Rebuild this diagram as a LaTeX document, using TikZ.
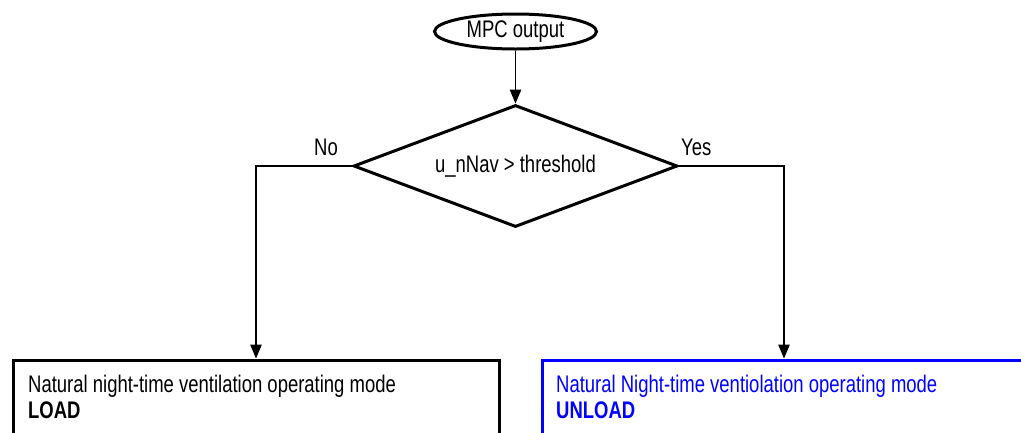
\documentclass[tikz,border=0pt]{standalone}
\usepackage{fontspec}
\setmainfont{Liberation Sans}[FakeStretch=0.77]
\usetikzlibrary{shapes.geometric,arrows.meta}
\begin{document}
\begin{tikzpicture}[x=1pt,y=-1pt,
  every node/.style={font=\fontsize{24}{26}\selectfont},
  border/.style={draw, line width=3pt},
  conn/.style={line width=1.2pt, -{Triangle[length=14pt,width=11.5pt]}},
  lbl/.style={inner sep=0pt, anchor=base west},
  boxtxt/.style={inner sep=0pt, anchor=base west, align=left}]
\useasboundingbox (0,0) rectangle (1021,432);
\clip (0,0) rectangle (1021,432);
\node[border, ellipse, minimum width=162pt, minimum height=35pt, inner sep=0pt] (mpc) at (515.5,31.5) {MPC output};
\node[border, diamond, aspect=2.66, minimum width=324pt, minimum height=122pt, inner sep=0pt] (dec) at (515.5,166) {u\_nNav > threshold};
\node[border, anchor=north west, minimum width=486pt, minimum height=120pt, inner sep=0pt] (load) at (11.5,358.5) {};
\node[border, draw=blue, anchor=north west, minimum width=500pt, minimum height=120pt, inner sep=0pt] (unload) at (540.5,358.5) {};
\node[boxtxt] (loadtxt) at (28,418) {Natural night-time ventilation operating mode\\\textbf{LOAD}};
\node[boxtxt, text=blue] (unloadtxt) at (556,418) {Natural Night-time ventiolation operating mode\\\textbf{UNLOAD}};
\node[lbl] (no) at (314,155) {No};
\node[lbl] (yes) at (681,155) {Yes};
\coordinate (lx) at (256,0);
\coordinate (rx) at (784,0);
\draw[conn] (mpc.south) -- (dec.north);
\draw[conn] (dec.west) -| (lx |- load.north);
\draw[conn] (dec.east) -| (rx |- unload.north);
\end{tikzpicture}
\end{document}
